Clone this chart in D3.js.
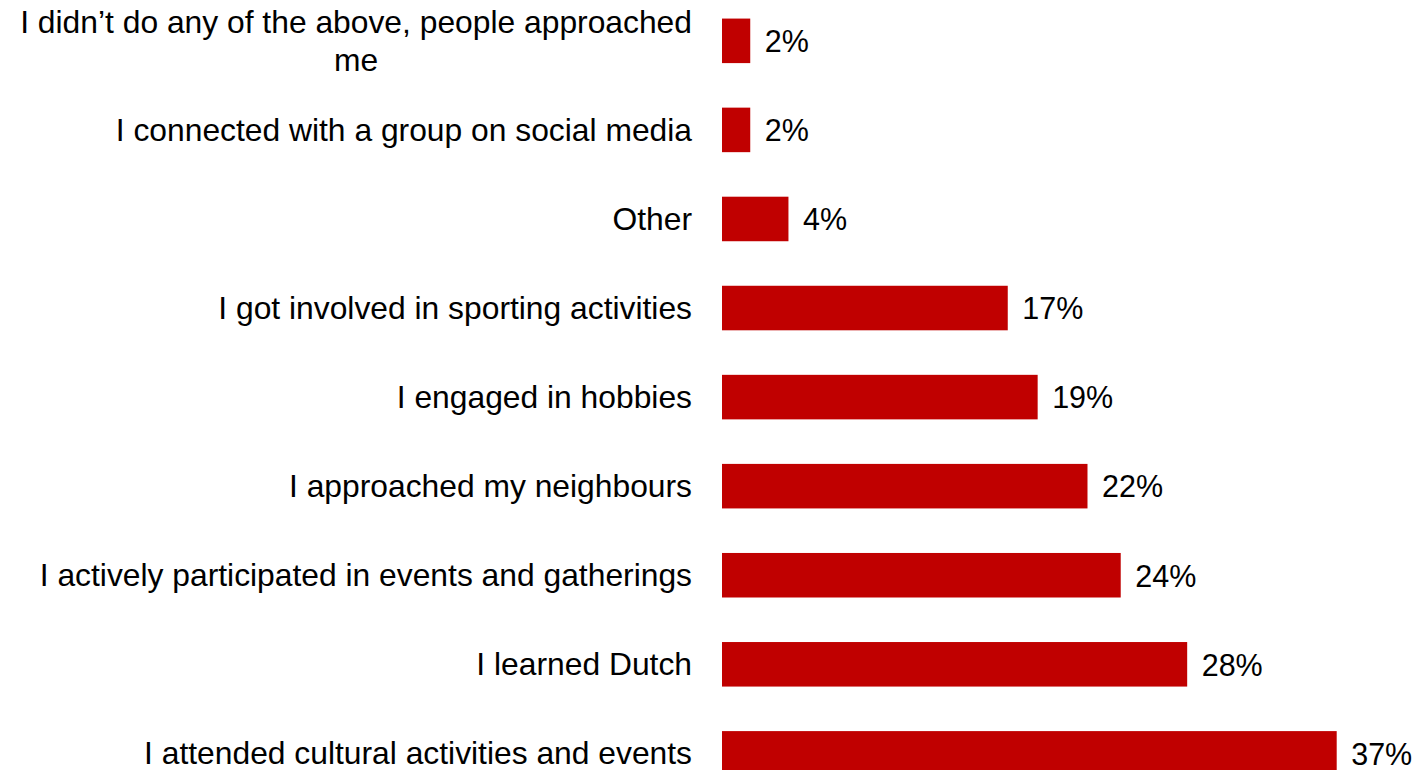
<!DOCTYPE html>
<html>
<head>
<meta charset="utf-8">
<script src="https://cdn.jsdelivr.net/npm/d3@7"></script>
<style>
  html, body { margin: 0; padding: 0; background: #fff; }
  svg { display: block; }
</style>
</head>
<body>
<svg id="chart" width="1413" height="770"></svg>
<script>
const categories = [
  "I didn’t do any of the above, people approached me",
  "I connected with a group on social media",
  "Other",
  "I got involved in sporting activities",
  "I engaged in hobbies",
  "I approached my neighbours",
  "I actively participated in events and gatherings",
  "I learned Dutch",
  "I attended cultural activities and events"
];
const values = [1.7, 1.7, 4.0, 17.2, 19.0, 22.0, 24.0, 28.0, 37.0];
const valueLabels = ["2%", "2%", "4%", "17%", "19%", "22%", "24%", "28%", "37%"];

const svg = d3.select("#chart");
const fontFamily = "'Liberation Sans', Arial, sans-serif";
const labelSize = 31.8;
const valueSize = 30.5;

const x = d3.scaleLinear().domain([0, 37]).range([722, 1336.7]);
const y = d3.scaleBand()
  .domain(categories)
  .range([-3.7, 797.9])
  .paddingInner(0.5)
  .paddingOuter(0.25);

const data = categories.map((c, i) => ({ cat: c, v: values[i], lbl: valueLabels[i] }));

svg.selectAll("rect.bar")
  .data(data)
  .join("rect")
  .attr("class", "bar")
  .attr("x", x(0))
  .attr("y", d => y(d.cat))
  .attr("width", d => x(d.v) - x(0))
  .attr("height", y.bandwidth())
  .attr("fill", "#C00000");

svg.selectAll("text.val")
  .data(data)
  .join("text")
  .attr("class", "val")
  .attr("x", d => x(d.v) + 14.5)
  .attr("y", d => y(d.cat) + y.bandwidth() / 2)
  .attr("dy", "0.37em")
  .attr("font-family", fontFamily)
  .attr("font-size", valueSize)
  .attr("fill", "#000")
  .text(d => d.lbl);

const labelX = 692;
data.forEach((d, i) => {
  const cy = y(d.cat) + y.bandwidth() / 2;
  if (i === 0) {
    const line1 = "I didn’t do any of the above, people approached";
    const line2 = "me";
    const t1 = svg.append("text")
      .attr("x", labelX)
      .attr("y", cy - 18.65)
      .attr("dy", "0.35em")
      .attr("text-anchor", "end")
      .attr("font-family", fontFamily)
      .attr("font-size", labelSize)
      .attr("fill", "#000")
      .text(line1);
    const w = t1.node().getComputedTextLength();
    svg.append("text")
      .attr("x", labelX - w / 2)
      .attr("y", cy + 18.65)
      .attr("dy", "0.35em")
      .attr("text-anchor", "middle")
      .attr("font-family", fontFamily)
      .attr("font-size", labelSize)
      .attr("fill", "#000")
      .text(line2);
  } else {
    svg.append("text")
      .attr("x", labelX)
      .attr("y", cy)
      .attr("dy", "0.35em")
      .attr("text-anchor", "end")
      .attr("font-family", fontFamily)
      .attr("font-size", labelSize)
      .attr("fill", "#000")
      .text(d.cat);
  }
});
</script>
</body>
</html>
